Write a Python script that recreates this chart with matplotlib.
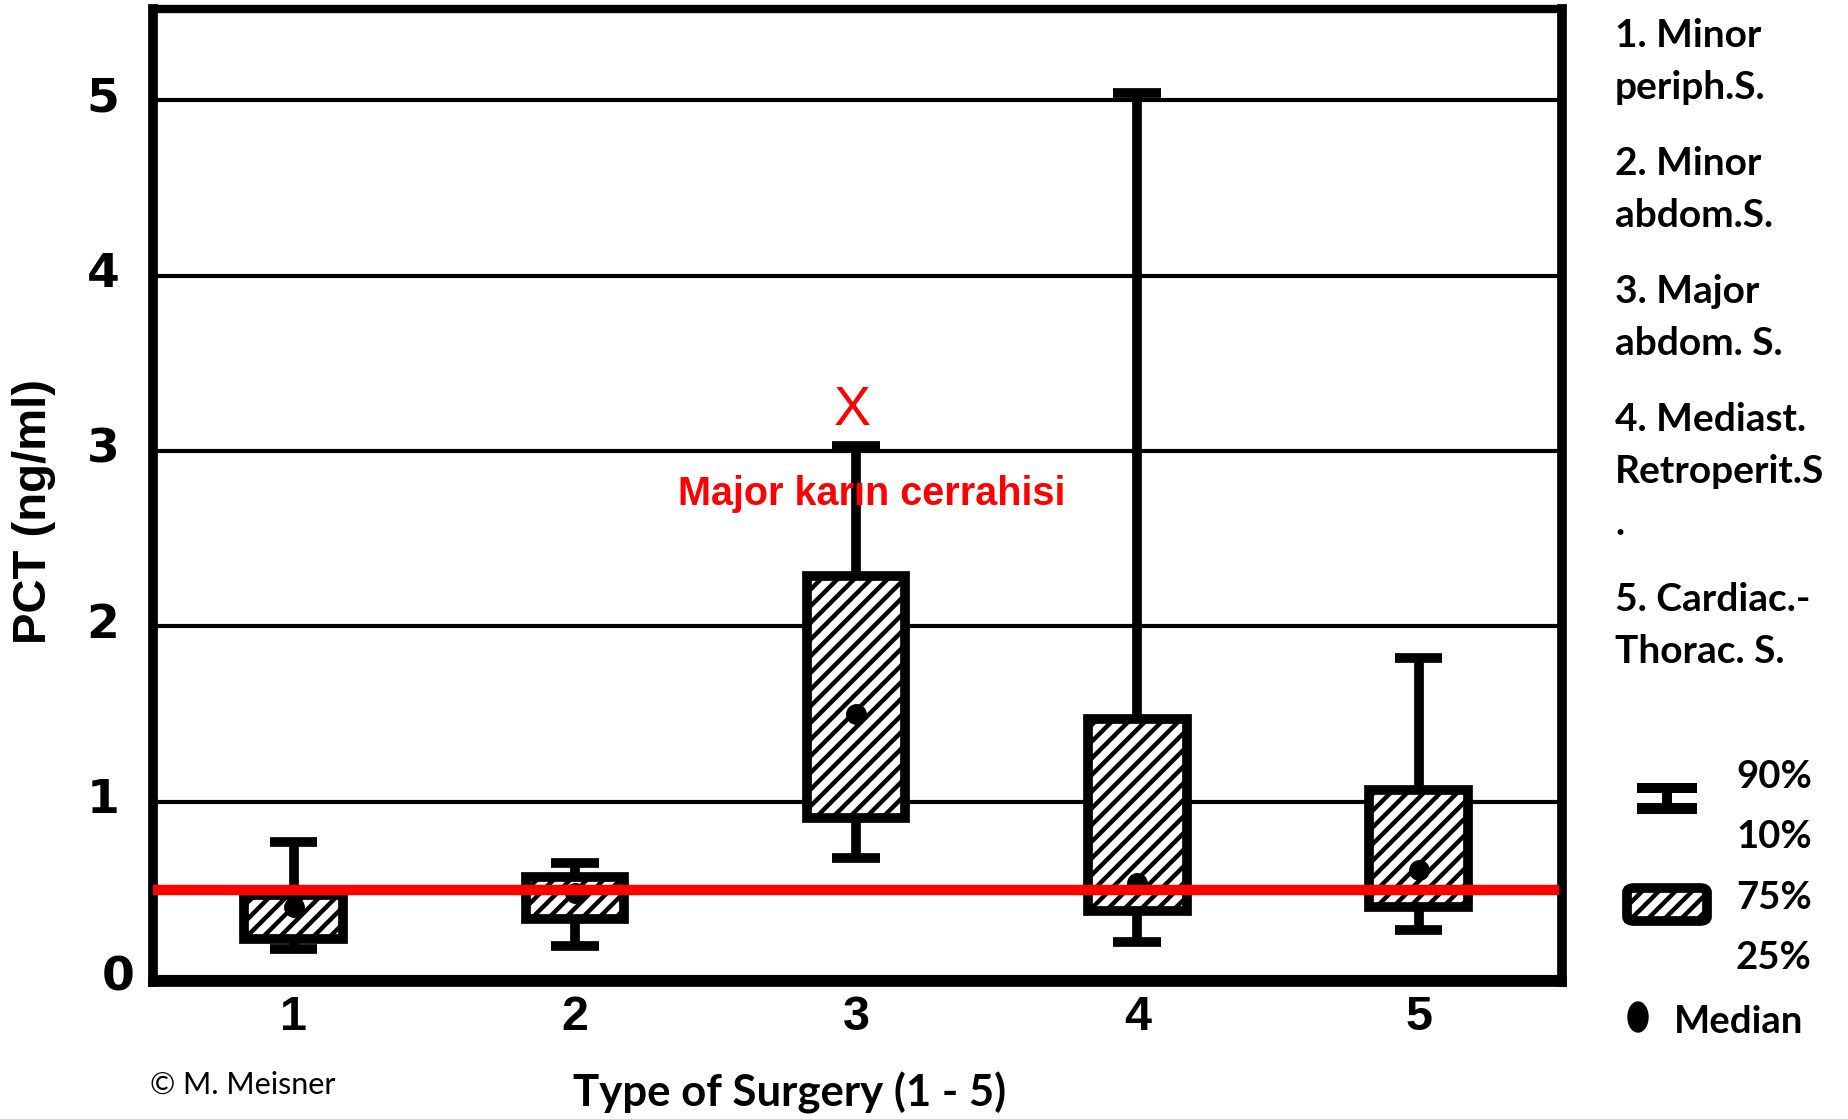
import matplotlib as mpl
import matplotlib.pyplot as plt
from matplotlib.patches import FancyBboxPatch, Ellipse, Rectangle
from matplotlib.transforms import ScaledTranslation

mpl.rcParams['hatch.linewidth'] = 3.2

NARROW = ['Liberation Sans Narrow', 'Liberation Sans', 'DejaVu Sans']
CALI   = ['Lato', 'DejaVu Sans']

# data (PCT, ng/ml)
surgery = [1, 2, 3, 4, 5]
p10     = [0.16, 0.18, 0.68, 0.20, 0.27]
q1      = [0.22, 0.33, 0.91, 0.38, 0.40]
median  = [0.40, 0.48, 1.50, 0.54, 0.61]
q3      = [0.47, 0.57, 2.29, 1.47, 1.07]
p90     = [0.77, 0.65, 3.03, 5.04, 1.82]
cutoff  = 0.5
y_ticks = [0, 1, 2, 3, 4, 5]

groups = [
    ["1. Minor", "periph.S."],
    ["2. Minor", "abdom.S."],
    ["3. Major", "abdom. S."],
    ["4. Mediast.", "Retroperit.S", "."],
    ["5. Cardiac.-", "Thorac. S."],
]

W_PX, H_PX = 1849, 1119


def fxy(x, y):
    """pixel position (from top-left) -> figure fraction"""
    return x / W_PX, 1 - y / H_PX


fig = plt.figure(figsize=(W_PX / 100, H_PX / 100), dpi=100)
ax = fig.add_axes([0.0827, 0.1224, 0.7621, 0.8692])

stats = [dict(med=m, q1=a, q3=b, whislo=lo, whishi=hi, fliers=[])
         for m, a, b, lo, hi in zip(median, q1, q3, p10, p90)]

ax.bxp(stats, positions=surgery, widths=0.35, capwidths=0.17,
       patch_artist=True, showfliers=False, manage_ticks=False,
       boxprops=dict(facecolor='white', edgecolor='black', linewidth=7,
                     hatch='//', joinstyle='miter'),
       whiskerprops=dict(color='black', linewidth=7, solid_capstyle='butt'),
       capprops=dict(color='black', linewidth=7, solid_capstyle='butt'),
       medianprops=dict(linewidth=0))

ax.plot(surgery, median, 'o', color='black', markersize=14, zorder=3)
ax.axhline(cutoff, xmax=0.994, color='red', lw=7.5, zorder=5)

ax.set_xlim(0.5, 5.51)
ax.set_ylim(-0.027, 5.518)
ax.set_xticks(surgery, [str(s) for s in surgery])
ax.set_yticks(y_ticks, [str(t) for t in y_ticks])
ax.yaxis.grid(True, color='black', lw=3)
ax.set_axisbelow(True)
ax.tick_params(length=0)
ax.tick_params(axis='x', pad=9)
ax.tick_params(axis='y', pad=24)
for lab in ax.get_xticklabels():
    lab.set_fontfamily(NARROW)
    lab.set_fontweight('bold')
    lab.set_fontsize(35)
for lab in ax.get_yticklabels():
    lab.set_fontfamily('DejaVu Sans')
    lab.set_fontweight('bold')
    lab.set_fontsize(34)
    lab.set_transform(lab.get_transform() + ScaledTranslation(0, 0.06, fig.dpi_scale_trans))
# the "0" sits a little further right in the original
zero = ax.get_yticklabels()[0]
zero.set_transform(zero.get_transform() + ScaledTranslation(0.15, -0.02, fig.dpi_scale_trans))

for s in ax.spines.values():
    s.set_linewidth(7)
    s.set_color('black')
ax.spines['top'].set_linewidth(6)

# red annotation over group 3
ax.text(2.988, 3.15, "X", color='red', fontsize=40, family=NARROW,
        ha='center', va='baseline', zorder=6)
ax.text(3.055, 2.693, "Major karın cerrahisi", color='red', fontsize=28.5,
        family=NARROW, fontweight='bold', ha='center', va='baseline', zorder=6)

# axis labels and credit
fig.text(*fxy(34, 511), "PCT (ng/ml)", rotation=90, ha='center', va='center',
         fontsize=34, family=NARROW, fontweight='bold')
fig.text(*fxy(790, 1106), "Type of Surgery (1 - 5)", ha='center', va='baseline',
         fontsize=31.5, family=CALI, fontweight='bold')
fig.text(*fxy(150, 1094), "© M. Meisner", ha='left', va='baseline',
         fontsize=22, family=CALI)

# group descriptions on the right
y = 47
for g in groups:
    for line in g:
        fig.text(*fxy(1615, y), line, ha='left', va='baseline',
                 fontsize=28, family=CALI, fontweight='bold')
        y += 52
    y += 24

# key: whisker, box, median
for (x0, y0, w, h) in [(1637, 783, 60, 10), (1662, 793, 10, 10), (1637, 803, 60, 11)]:
    fig.add_artist(Rectangle(fxy(x0, y0 + h), w / W_PX, h / H_PX,
                             transform=fig.transFigure, color='black', lw=0))
bx, by = fxy(1627, 921)
fig.add_artist(FancyBboxPatch((bx, by), 80 / W_PX, 33 / H_PX,
                              boxstyle='round,pad=0,rounding_size=0.004',
                              transform=fig.transFigure, facecolor='white',
                              edgecolor='black', lw=7, hatch='//'))
fig.add_artist(Ellipse(fxy(1638, 1017), 20 / W_PX, 30 / H_PX,
                       transform=fig.transFigure, color='black'))
for txt, xx, yy in [("90%", 1736, 788), ("10%", 1736, 848), ("75%", 1736, 909),
                    ("25%", 1736, 969), ("Median", 1674, 1033)]:
    fig.text(*fxy(xx, yy), txt, ha='left', va='baseline', fontsize=27.5,
             family=CALI, fontweight='bold')

fig.savefig('out.png', dpi=100)
